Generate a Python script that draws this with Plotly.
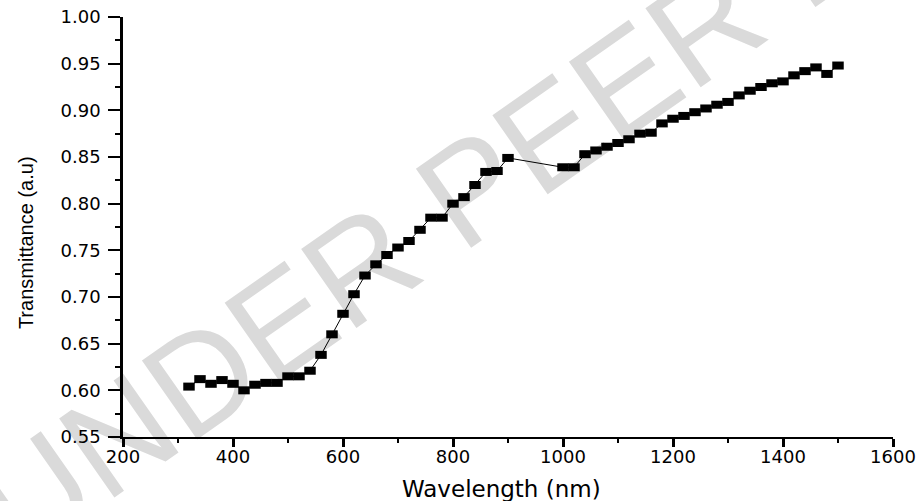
import plotly.graph_objects as go

# Data
wavelength_nm = [320, 340, 360, 380, 400, 420, 440, 460, 480, 500,
                 520, 540, 560, 580, 600, 620, 640, 660, 680, 700,
                 720, 740, 760, 780, 800, 820, 840, 860, 880, 900,
                 1000, 1020, 1040, 1060, 1080, 1100, 1120, 1140, 1160, 1180,
                 1200, 1220, 1240, 1260, 1280, 1300, 1320, 1340, 1360, 1380,
                 1400, 1420, 1440, 1460, 1480, 1500]
transmittance = [0.604, 0.612, 0.607, 0.611, 0.607, 0.600, 0.606, 0.608, 0.608, 0.615,
                 0.615, 0.621, 0.638, 0.660, 0.682, 0.703, 0.723, 0.735, 0.745, 0.753,
                 0.760, 0.772, 0.785, 0.785, 0.800, 0.807, 0.820, 0.834, 0.835, 0.849,
                 0.839, 0.839, 0.853, 0.857, 0.861, 0.865, 0.869, 0.875, 0.876, 0.886,
                 0.891, 0.894, 0.898, 0.902, 0.906, 0.909, 0.916, 0.921, 0.925, 0.929,
                 0.931, 0.9375, 0.942, 0.946, 0.939, 0.948]

x_tick_vals = [200, 400, 600, 800, 1000, 1200, 1400, 1600]
y_tick_vals = [0.55, 0.60, 0.65, 0.70, 0.75, 0.80, 0.85, 0.90, 0.95, 1.00]

x_title = "Wavelength (nm)"
y_title = "Transmittance (a.u)"
watermark = "UNDER PEER REVIEW"

fig = go.Figure()
fig.add_trace(go.Scatter(
    x=wavelength_nm, y=transmittance,
    mode="lines+markers",
    line=dict(color="black", width=1),
    marker=dict(symbol="line-ew", size=8.2, color="black",
                line=dict(color="black", width=8)),
    showlegend=False,
    hoverinfo="x+y",
))

# light grey watermark drawn beneath the data
fig.add_shape(
    type="line", xref="paper", yref="paper",
    x0=0.5195, y0=0.7157, x1=0.7325, y1=0.989,
    line=dict(width=0, color="rgba(0,0,0,0)"),
    layer="below",
    label=dict(text=watermark, textposition="middle", yanchor="middle",
               font=dict(family="Liberation Sans", size=140, color="#dadada")),
)

tick_font = dict(family="DejaVu Sans", size=18, color="black")

fig.update_layout(
    width=920, height=501,
    margin=dict(l=123, r=27, t=17, b=64, autoexpand=False),
    paper_bgcolor="white",
    plot_bgcolor="rgba(0,0,0,0)",
    xaxis=dict(
        range=[200, 1600], tickvals=x_tick_vals,
        ticks="outside", ticklen=8, tickwidth=2.5, tickcolor="black",
        showline=True, linecolor="black", linewidth=2,
        showgrid=False, zeroline=False,
        tickfont=tick_font, ticklabelstandoff=-6, ticklabeloverflow="allow",
        minor=dict(ticks="outside", ticklen=4, tickwidth=2, tickcolor="black", dtick=100,
                   tick0=200, showgrid=False),
    ),
    yaxis=dict(
        range=[0.55, 1.00], tickvals=y_tick_vals, tickformat=".2f",
        ticks="outside", ticklen=12, tickwidth=2, tickcolor="black",
        showline=True, linecolor="black", linewidth=2.5,
        showgrid=False, zeroline=False,
        tickfont=tick_font, ticklabelstandoff=4, ticklabeloverflow="allow",
        minor=dict(ticks="outside", ticklen=5.5, tickwidth=2, tickcolor="black", dtick=0.025,
                   tick0=0.55, showgrid=False),
    ),
    annotations=[
        dict(text=x_title, xref="paper", yref="paper", x=0.491, y=-0.124,
             xanchor="center", yanchor="middle", showarrow=False,
             font=dict(family="DejaVu Sans", size=23, color="black")),
        dict(text=y_title, xref="paper", yref="paper", x=-0.126, y=0.464,
             xanchor="center", yanchor="middle", showarrow=False, textangle=-90,
             font=dict(family="Liberation Sans", size=20, color="black")),
    ],
)

fig.write_html("out.html",
               config={"displayModeBar": False},
               post_script="document.body.style.margin='0px';document.body.style.overflow='hidden';")
